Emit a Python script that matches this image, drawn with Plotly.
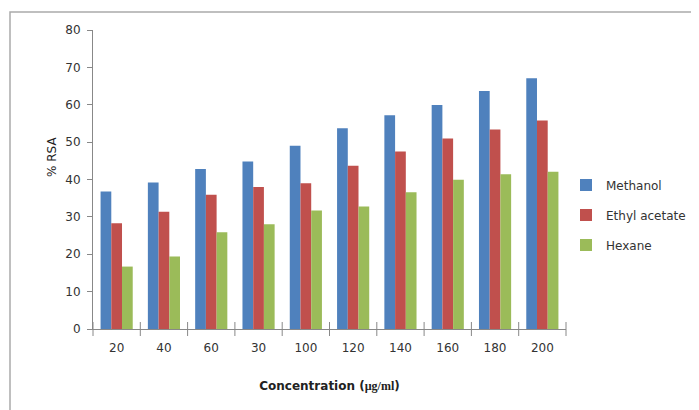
import plotly.graph_objects as go

categories = ["20", "40", "60", "30", "100", "120", "140", "160", "180", "200"]
methanol = [36.8, 39.2, 42.8, 44.8, 49.0, 53.7, 57.2, 59.9, 63.7, 67.1]
ethyl_acetate = [28.3, 31.4, 35.9, 38.0, 39.0, 43.7, 47.5, 51.0, 53.4, 55.8]
hexane = [16.7, 19.4, 25.9, 28.0, 31.7, 32.8, 36.6, 39.9, 41.4, 42.1]
y_ticks = [0, 10, 20, 30, 40, 50, 60, 70, 80]

x_pos = list(range(len(categories)))

fig = go.Figure()
fig.add_bar(x=x_pos, y=methanol, name="Methanol", legendgroup="m",
            marker=dict(color="#4F81BD", line=dict(width=0)))
fig.add_bar(x=x_pos, y=ethyl_acetate, name="Ethyl acetate", legendgroup="e",
            marker=dict(color="#C0504D", line=dict(width=0)))
fig.add_bar(x=x_pos, y=hexane, name="Hexane", legendgroup="h",
            marker=dict(color="#9BBB59", line=dict(width=0)))

axis_font = dict(family="DejaVu Sans", size=12, color="#333333")

# page has an 8px body margin, so the figure is offset by 8px
OFF = 8
W, H = 699 - OFF, 410 - OFF
L, T = 93 - OFF, 30 - OFF
PW, PH = 473, 299
R, B = W - L - PW, H - T - PH

fig.update_layout(
    width=W, height=H,
    margin=dict(l=L, r=R, t=T, b=B, autoexpand=False),
    paper_bgcolor="white", plot_bgcolor="white",
    barmode="group", bargap=0.32, bargroupgap=0,
    showlegend=True,
    legend=dict(x=1.0, y=(329 - 215) / PH, xanchor="left", yanchor="middle",
                font=dict(family="DejaVu Sans", size=12, color="#333333"),
                traceorder="grouped", tracegroupgap=11, itemwidth=30,
                bgcolor="rgba(0,0,0,0)"),
    xaxis=dict(tickmode="array", tickvals=x_pos, ticktext=categories,
               range=[-0.5, len(categories) - 0.5], automargin=False,
               showline=True, linecolor="#888888", linewidth=1,
               ticks="", showgrid=False, zeroline=False, tickfont=axis_font,
               ticklabelstandoff=8,
               title=dict(text="<b>Concentration (<span style='font-family:Liberation Serif'>µg/ml</span>)</b>",
                          font=dict(family="DejaVu Sans", size=12, color="#222222"), standoff=27)),
    yaxis=dict(range=[0, 80], tickvals=y_ticks, automargin=False,
               showline=True, linecolor="#888888", linewidth=1,
               ticks="outside", ticklen=5, tickcolor="#888888",
               ticklabelstandoff=4,
               showgrid=False, zeroline=False, tickfont=axis_font),
    annotations=[dict(text="% RSA", xref="paper", yref="paper",
                      x=(52 - 93) / PW, y=(329 - 157) / PH, textangle=-90,
                      showarrow=False, xanchor="center", yanchor="middle",
                      font=dict(family="DejaVu Sans", size=12, color="#222222"))],
    shapes=[dict(type="rect", xref="paper", yref="paper",
                 x0=(10 - 93) / PW, x1=1.6, y0=-0.6, y1=(329 - 12) / PH,
                 line=dict(color="#AAAAAA", width=1.5), fillcolor="rgba(0,0,0,0)", layer="below")],
)

# tick marks at category boundaries (Excel style)
fig.add_trace(go.Scatter(x=[i - 0.5 for i in range(len(categories) + 1)], y=[0] * (len(categories) + 1),
                         mode="markers", marker=dict(symbol="line-ns", size=10, line=dict(color="#888888", width=1)),
                         showlegend=False, hoverinfo="skip", cliponaxis=False))

fig.write_html("out.html")
